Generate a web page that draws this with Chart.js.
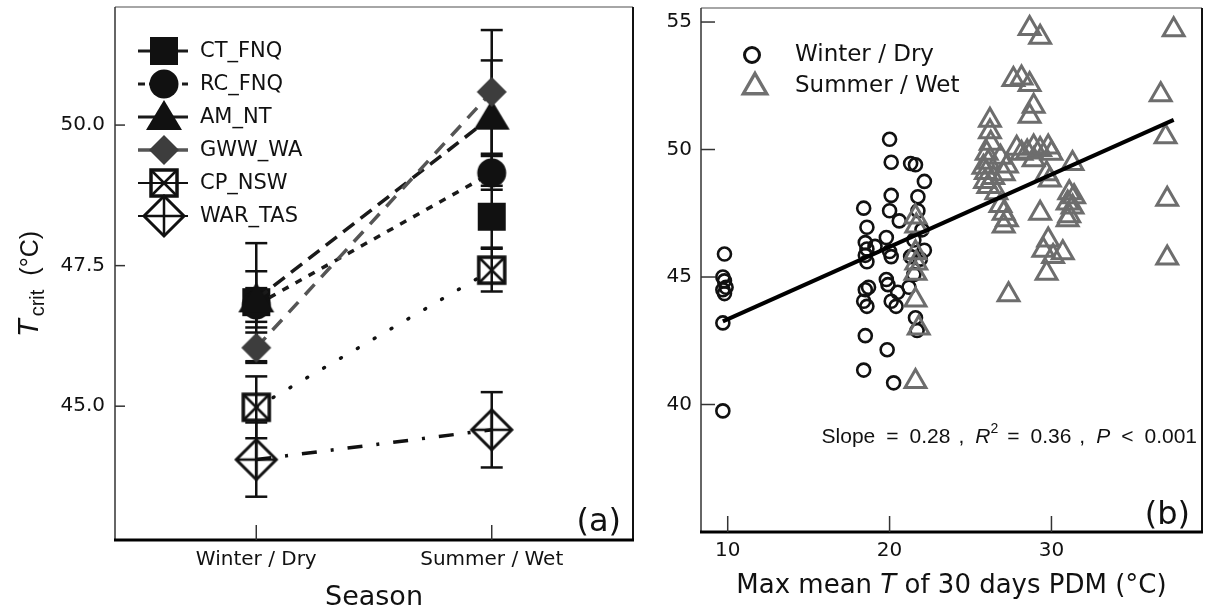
<!DOCTYPE html>
<html>
<head>
<meta charset="utf-8">
<script src="https://cdn.jsdelivr.net/npm/chart.js@4/dist/chart.umd.min.js"></script>
<style>
  html, body { margin: 0; padding: 0; background: #fff; }
  #wrap { position: relative; width: 1208px; height: 613px; overflow: hidden; }
  #chartA { position: absolute; left: 0; top: 0; }
  #chartB { position: absolute; left: 650px; top: 0; }
</style>
</head>
<body>
<div id="wrap">
  <canvas id="chartA" width="650" height="613"></canvas>
  <canvas id="chartB" width="558" height="613"></canvas>
</div>
<script>
// ---- panel (a): Tcrit per site and season (mean +/- error) ----
const seasons = ['Winter / Dry', 'Summer / Wet'];
const sites = ['CT_FNQ', 'RC_FNQ', 'AM_NT', 'GWW_WA', 'CP_NSW', 'WAR_TAS'];
const winterMean = [46.85, 46.80, 46.90, 46.04, 44.98, 44.05];
const winterErr  = [1.05, 0.30, 0.50, 0.27, 0.55, 0.66];
const summerMean = [48.37, 49.15, 50.15, 50.59, 47.42, 44.58];
const summerErr  = [0.55, 0.30, 1.00, 1.10, 0.38, 0.67];
const tcritTicks = [45, 47.5, 50];

// ---- panel (b): Tcrit vs max mean T of 30 days PDM ----
const winterX = [9.8, 9.7, 9.8, 9.9, 9.7, 9.8, 9.7, 9.7,
  18.4, 18.6, 18.5, 18.6, 18.5, 18.6, 18.5, 18.4, 18.6, 18.5, 18.4, 18.7,
  20.0, 20.1, 20.1, 20.0, 20.6, 19.8, 19.1, 20.1, 19.8, 19.9, 20.1, 20.5, 19.85, 20.25, 20.4, 20.0,
  21.3, 21.6, 22.15, 21.75, 21.75, 22.0, 21.5, 22.15, 21.3, 21.9, 21.6, 21.7, 21.2, 21.5];
const winterY = [45.9, 45.0, 44.85, 44.6, 44.5, 44.35, 43.2, 39.75,
  47.7, 46.95, 46.35, 46.1, 45.85, 45.6, 44.5, 44.05, 43.85, 42.7, 41.35, 44.6,
  50.4, 49.5, 48.2, 47.6, 47.2, 46.55, 46.2, 45.8, 44.9, 44.7, 44.05, 44.4, 42.15, 40.85, 43.85, 46.0,
  49.45, 49.4, 48.75, 48.15, 47.6, 46.85, 46.45, 46.05, 45.8, 45.7, 43.4, 42.9, 44.6, 45.1];
const summerX = [21.6, 21.65, 21.6, 21.65, 21.6, 21.6, 21.8, 21.6,
  26.2, 26.2, 26.25, 26.0, 26.1, 25.95, 25.9, 26.1, 26.4, 25.8,
  26.85, 27.25, 27.05, 26.85, 27.05, 27.25, 27.05, 27.35, 26.6,
  27.65, 28.15, 28.65, 28.9, 28.65, 27.85, 28.15, 28.9, 29.3, 28.9, 28.5,
  28.65, 29.3, 29.8, 30.0, 29.7, 29.9, 29.3, 29.8, 29.5, 30.1, 29.7,
  31.3, 31.1, 31.4, 31.0, 31.3, 31.1, 31.0, 30.7,
  37.55, 36.75, 37.05, 37.15, 37.15];
const summerY = [47.35, 47.0, 45.95, 45.55, 45.15, 44.1, 43.0, 40.9,
  51.15, 50.7, 50.25, 49.85, 49.5, 49.1, 48.75, 48.55, 48.9, 49.3,
  49.7, 49.35, 49.05, 47.8, 47.5, 47.25, 47.0, 44.3, 48.3,
  52.75, 52.8, 52.55, 51.7, 51.3, 50.05, 49.85, 50.1, 50.0, 49.6, 49.9,
  54.75, 54.4, 50.1, 49.85, 49.05, 48.8, 47.5, 46.45, 46.05, 45.8, 45.15,
  49.45, 48.3, 48.15, 47.9, 47.75, 47.4, 47.25, 45.95,
  54.7, 52.15, 50.5, 48.05, 45.75];
const fitX = [9.7, 37.55];
const fitY = [43.26, 51.16];
const pdmTicks = [10, 20, 30];
const tcritTicksB = [40, 45, 50, 55];

// styles
const SANS = '"DejaVu Sans"';
const ARIAL = '"Liberation Sans"';
const lineColor = ['#1a1a1a', '#1a1a1a', '#1a1a1a', '#555555', '#111111', '#111111'];
const lineDash = [[14, 8], [7, 8], [14, 8], [14, 10], [1, 18.5], [15, 14, 3, 14]];
const lineCap = ['butt', 'butt', 'butt', 'butt', 'round', 'butt'];
const lineShown = [false, true, true, true, true, true];
const markerKind = ['square', 'circle', 'triangle', 'diamond', 'boxX', 'diamondPlus'];

function makeMarker(kind) {
  const c = document.createElement('canvas');
  c.width = c.height = 48;
  const g = c.getContext('2d');
  g.translate(24, 24);
  g.fillStyle = '#111'; g.strokeStyle = '#111';
  if (kind === 'square') {
    g.fillRect(-14, -14, 28, 28);
  } else if (kind === 'circle') {
    g.beginPath(); g.arc(0, 0, 14.5, 0, 2 * Math.PI); g.fill();
  } else if (kind === 'triangle') {
    g.beginPath(); g.moveTo(0, -17); g.lineTo(18, 13); g.lineTo(-18, 13); g.closePath(); g.fill();
  } else if (kind === 'diamond') {
    g.fillStyle = '#3d3d3d';
    g.beginPath(); g.moveTo(0, -15); g.lineTo(15, 0); g.lineTo(0, 15); g.lineTo(-15, 0); g.closePath(); g.fill();
  } else if (kind === 'boxX') {
    g.lineWidth = 3.5; g.strokeRect(-13, -13, 26, 26);
    g.lineWidth = 2.5; g.beginPath();
    g.moveTo(-13, -13); g.lineTo(13, 13); g.moveTo(13, -13); g.lineTo(-13, 13); g.stroke();
  } else if (kind === 'diamondPlus') {
    g.lineWidth = 3; g.beginPath();
    g.moveTo(0, -20); g.lineTo(20, 0); g.lineTo(0, 20); g.lineTo(-20, 0); g.closePath(); g.stroke();
    g.lineWidth = 2.5; g.beginPath();
    g.moveTo(0, -20); g.lineTo(0, 20); g.moveTo(-20, 0); g.lineTo(20, 0); g.stroke();
  }
  return c;
}
const markers = markerKind.map(makeMarker);

function drawRuns(ctx, runs, x, y, align) {
  ctx.save();
  ctx.fillStyle = '#111';
  ctx.textBaseline = 'alphabetic';
  ctx.textAlign = 'left';
  let total = 0;
  runs.forEach(r => { ctx.font = r.font; r.w = ctx.measureText(r.t).width + (r.gap || 0); total += r.w; });
  let cx = align === 'center' ? x - total / 2 : align === 'right' ? x - total : x;
  runs.forEach(r => { ctx.font = r.font; ctx.fillText(r.t, cx, y + (r.dy || 0)); cx += r.w; });
  ctx.restore();
}

function seg(ctx, x1, y1, x2, y2) {
  ctx.beginPath(); ctx.moveTo(x1, y1); ctx.lineTo(x2, y2); ctx.stroke();
}

function drawFrame(ctx, a) {
  ctx.save();
  ctx.strokeStyle = '#888'; ctx.lineWidth = 1.5;
  seg(ctx, a.left, a.top, a.right, a.top);
  ctx.strokeStyle = '#333'; ctx.lineWidth = 1.5;
  seg(ctx, a.left, a.top, a.left, a.bottom);
  ctx.strokeStyle = '#111'; ctx.lineWidth = 2;
  seg(ctx, a.right, a.top, a.right, a.bottom);
  ctx.strokeStyle = '#000'; ctx.lineWidth = 3;
  seg(ctx, a.left - 1, a.bottom, a.right + 1, a.bottom);
  ctx.restore();
}

// fixed axis sizes so the plot areas land where the reference has them
function fixSize(prop, size) {
  return s => {
    s[prop] = size;
    s.paddingTop = 0; s.paddingBottom = 0; s.paddingLeft = 0; s.paddingRight = 0;
  };
}

// error bars drawn under the markers, from the y scale
const errorBars = {
  id: 'errorBars',
  beforeDatasetsDraw(chart) {
    const ctx = chart.ctx, ys = chart.scales.y;
    ctx.save();
    ctx.strokeStyle = '#111'; ctx.lineWidth = 2.5;
    chart.data.datasets.forEach((ds, i) => {
      const meta = chart.getDatasetMeta(i);
      ds.errors.forEach((e, j) => {
        const px = meta.data[j].x, v = ds.data[j].y;
        const top = ys.getPixelForValue(v + e), bot = ys.getPixelForValue(v - e);
        seg(ctx, px, top, px, bot);
        seg(ctx, px - 11, top, px + 11, top);
        seg(ctx, px - 11, bot, px + 11, bot);
      });
    });
    ctx.restore();
  }
};

const legendDash = [[], [7, 4], [], [], [], []];
const legendWidth = [3, 3, 3, 3.5, 2, 2];

const panelA = {
  id: 'panelA',
  afterDraw(chart) {
    const { ctx, chartArea: a, scales: { x, y } } = chart;
    drawFrame(ctx, a);
    ctx.save();
    ctx.strokeStyle = '#333'; ctx.lineWidth = 1.5;
    tcritTicks.forEach(v => { const py = y.getPixelForValue(v); seg(ctx, a.left, py, a.left + 10, py); });
    seasons.forEach((s, j) => { const px = x.getPixelForValue(j + 1); seg(ctx, px, a.bottom, px, a.bottom - 15); });
    ctx.restore();

    drawRuns(ctx, [{ t: 'Season', font: '27px ' + SANS }], (a.left + a.right) / 2, 605, 'center');
    ctx.save();
    ctx.translate(38, 284); ctx.rotate(-Math.PI / 2);
    drawRuns(ctx, [
      { t: 'T', font: 'italic 29px ' + ARIAL, gap: 3 },
      { t: 'crit', font: '20px ' + ARIAL, dy: 6, gap: 14 },
      { t: '(°C)', font: '25px ' + ARIAL }
    ], 0, 0, 'center');
    ctx.restore();
    drawRuns(ctx, [{ t: '(a)', font: '32px ' + SANS }], a.right - 12, a.bottom - 9, 'right');

    // legend: line + marker + label
    sites.forEach((name, i) => {
      const ly = 51 + i * 33;
      ctx.save();
      ctx.strokeStyle = lineColor[i]; ctx.lineWidth = legendWidth[i];
      ctx.setLineDash(legendDash[i]);
      seg(ctx, 138, ly, 188, ly);
      ctx.restore();
      const m = markers[i];
      ctx.drawImage(m, 164 - m.width / 2, ly - m.height / 2);
      ctx.save();
      ctx.fillStyle = '#111'; ctx.font = '21px ' + SANS;
      ctx.textBaseline = 'middle'; ctx.textAlign = 'left';
      ctx.fillText(name, 200, ly + 1);
      ctx.restore();
    });
  }
};

const panelB = {
  id: 'panelB',
  afterDraw(chart) {
    const { ctx, chartArea: a, scales: { x, y } } = chart;
    drawFrame(ctx, a);
    ctx.save();
    ctx.strokeStyle = '#333'; ctx.lineWidth = 1.5;
    tcritTicksB.forEach(v => { const py = y.getPixelForValue(v); seg(ctx, a.left, py, a.left + 14, py); });
    pdmTicks.forEach(v => { const px = x.getPixelForValue(v); seg(ctx, px, a.bottom, px, a.bottom - 16); });
    ctx.restore();

    drawRuns(ctx, [
      { t: 'Max mean ', font: '26px ' + SANS },
      { t: 'T', font: 'italic 26px ' + SANS },
      { t: ' of 30 days PDM (°C)', font: '26px ' + SANS }
    ], (a.left + a.right) / 2, 593, 'center');

    const f = '21px ' + ARIAL, fi = 'italic 21px ' + ARIAL;
    drawRuns(ctx, [
      { t: 'Slope', font: f, gap: 11 }, { t: '=', font: f, gap: 11 }, { t: '0.28', font: f, gap: 8 },
      { t: ',', font: f, gap: 11 }, { t: 'R', font: fi }, { t: '2', font: '14px ' + ARIAL, dy: -10, gap: 9 },
      { t: '=', font: f, gap: 11 }, { t: '0.36', font: f, gap: 8 }, { t: ',', font: f, gap: 11 },
      { t: 'P', font: fi, gap: 11 }, { t: '<', font: f, gap: 11 }, { t: '0.001', font: f }
    ], a.right - 5, 443, 'right');
    drawRuns(ctx, [{ t: '(b)', font: '32px ' + SANS }], a.right - 12, a.bottom - 8, 'right');

    // legend
    ctx.save();
    ctx.fillStyle = 'rgba(0,0,0,0)';
    ctx.strokeStyle = '#111'; ctx.lineWidth = 3;
    Chart.helpers.drawPoint(ctx, { pointStyle: 'circle', radius: 7.5, borderWidth: 3, rotation: 0 }, a.left + 51, 55);
    ctx.strokeStyle = '#707070'; ctx.lineWidth = 3.4;
    Chart.helpers.drawPoint(ctx, { pointStyle: 'triangle', radius: 13.5, borderWidth: 3.4, rotation: 0 }, a.left + 54, 87);
    ctx.fillStyle = '#111'; ctx.font = '23px ' + SANS;
    ctx.textBaseline = 'middle'; ctx.textAlign = 'left';
    ctx.fillText('Winter / Dry', a.left + 94, 55);
    ctx.fillText('Summer / Wet', a.left + 94, 86);
    ctx.restore();
  }
};

// ---- chart (a) ----
new Chart(document.getElementById('chartA'), {
  type: 'line',
  data: {
    datasets: sites.map((name, i) => ({
      label: name,
      data: seasons.map((s, j) => ({ x: j + 1, y: j === 0 ? winterMean[i] : summerMean[i] })),
      errors: [winterErr[i], summerErr[i]],
      showLine: lineShown[i],
      borderColor: lineColor[i],
      borderWidth: 3.5,
      borderDash: lineDash[i],
      borderCapStyle: lineCap[i],
      pointStyle: markers[i],
      pointRadius: 14,
      order: sites.length - i
    }))
  },
  options: {
    responsive: false,
    animation: false,
    devicePixelRatio: 1,
    layout: { autoPadding: false, padding: { left: 0, right: 17, top: 7, bottom: 0 } },
    plugins: { legend: { display: false }, tooltip: { enabled: false } },
    scales: {
      x: {
        type: 'linear', min: 0.4, max: 2.6,
        grid: { display: false, drawTicks: false }, border: { display: false },
        afterBuildTicks: s => { s.ticks = seasons.map((_, j) => ({ value: j + 1 })); },
        afterFit: fixSize('height', 73),
        ticks: { padding: 8, color: '#111', font: { family: 'DejaVu Sans', size: 20 }, callback: v => seasons[v - 1] }
      },
      y: {
        min: 42.62, max: 52.1,
        grid: { display: false, drawTicks: false }, border: { display: false },
        afterBuildTicks: s => { s.ticks = tcritTicks.map(v => ({ value: v })); },
        afterFit: fixSize('width', 115),
        ticks: { padding: 10, color: '#111', font: { family: 'DejaVu Sans', size: 20 }, callback: v => v.toFixed(1) }
      }
    }
  },
  plugins: [errorBars, panelA]
});

// ---- chart (b) ----
new Chart(document.getElementById('chartB'), {
  type: 'scatter',
  data: {
    datasets: [
      {
        type: 'line', label: 'fit', showLine: true,
        data: fitX.map((v, i) => ({ x: v, y: fitY[i] })),
        borderColor: '#000', borderWidth: 4, pointRadius: 0, order: 0
      },
      {
        label: 'Summer / Wet',
        data: summerX.map((v, i) => ({ x: v, y: summerY[i] })),
        pointStyle: 'triangle', pointRadius: 12,
        pointBorderWidth: 3, pointBorderColor: '#6d6d6d', pointBackgroundColor: 'rgba(0,0,0,0)',
        order: 1
      },
      {
        label: 'Winter / Dry',
        data: winterX.map((v, i) => ({ x: v, y: winterY[i] })),
        pointStyle: 'circle', pointRadius: 6.5,
        pointBorderWidth: 2.6, pointBorderColor: '#111', pointBackgroundColor: 'rgba(0,0,0,0)',
        order: 2
      }
    ]
  },
  options: {
    responsive: false,
    animation: false,
    devicePixelRatio: 1,
    layout: { autoPadding: false, padding: { left: 0, right: 6, top: 8, bottom: 0 } },
    plugins: { legend: { display: false }, tooltip: { enabled: false } },
    scales: {
      x: {
        type: 'linear', min: 8.35, max: 39.3,
        grid: { display: false, drawTicks: false }, border: { display: false },
        afterBuildTicks: s => { s.ticks = pdmTicks.map(v => ({ value: v })); },
        afterFit: fixSize('height', 81),
        ticks: { padding: 7, color: '#111', font: { family: 'DejaVu Sans', size: 20 } }
      },
      y: {
        min: 35.0, max: 55.55,
        grid: { display: false, drawTicks: false }, border: { display: false },
        afterBuildTicks: s => { s.ticks = tcritTicksB.map(v => ({ value: v })); },
        afterFit: fixSize('width', 51),
        ticks: { padding: 9, color: '#111', font: { family: 'DejaVu Sans', size: 20 } }
      }
    }
  },
  plugins: [panelB]
});
</script>
</body>
</html>
